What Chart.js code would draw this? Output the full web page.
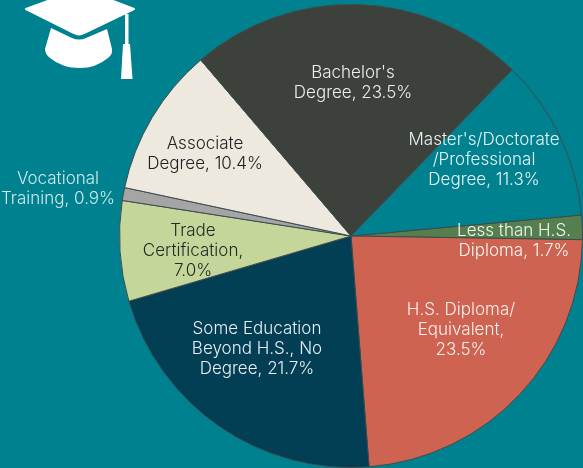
<!DOCTYPE html>
<html>
<head>
<meta charset="utf-8">
<script src="https://cdn.jsdelivr.net/npm/chart.js@4"></script>
<style>
  html, body { margin:0; padding:0; background:#00818f; overflow:hidden; }
  #wrap { position:relative; width:583px; height:468px; }
  #icon { position:absolute; left:0; top:0; }
</style>
</head>
<body>
<div id="wrap">
  <canvas id="chart" width="583" height="468"></canvas>
  <svg id="icon" width="150" height="90" viewBox="0 0 150 90">
    <path fill="#fff" stroke="#fff" stroke-width="2" stroke-linejoin="round" d="M26 9 L72 -8 L90 -8 L134 9 L84 33 Q79 36 74 33 Z"/>
    <path fill="#fff" d="M51 28 L72 38 Q79 41 86 38 L107 29 L112 49 Q113 54 108 58 Q96 68 80 68 Q62 68 50 58 Q45 54 45 49 Z"/>
    <rect fill="#fff" x="125" y="14" width="3.5" height="31"/>
    <path fill="#fff" d="M123 44 L130 44 L132.5 79 L121 79 Z"/>
  </svg>
</div>
<script>
const categories = ['Less than H.S.\nDiploma, ', 'H.S. Diploma/\nEquivalent,\n', 'Some Education\nBeyond H.S., No\nDegree, ',
  'Trade\nCertification,\n', 'Vocational\nTraining, ', 'Associate\nDegree, ', "Bachelor's\nDegree, ",
  "Master's/Doctorate\n/Professional\nDegree, "];
const shares = [1.7, 23.5, 21.7, 7.0, 0.9, 10.4, 23.5, 11.3];
const sliceColors = ['#567f4f', '#ce6351', '#033f54', '#c5d69b', '#a5a5a5', '#ede9df', '#3c413c', '#00818f'];
const textColors = ['#f2f6f2', '#f7efec', '#e6eef2', '#222b22', '#cfe9ec', '#222222', '#eeeeea', '#e6f3f4'];
// centre of each label block, px
const labelCentres = [[514, 241], [461, 330], [257, 349], [193, 251], [58, 189], [205, 154], [353, 83], [484, 160]];

// writes the label text for each slice
const sliceLabels = {
  id: 'sliceLabels',
  afterDatasetsDraw(chart) {
    const ctx = chart.ctx;
    ctx.save();
    ctx.font = '300 17px Inter, Lato, sans-serif';
    ctx.textAlign = 'center';
    ctx.textBaseline = 'middle';
    categories.forEach((c, i) => {
      const lines = (c + shares[i].toFixed(1) + '%').split('\n');
      const [x, y] = labelCentres[i];
      ctx.fillStyle = textColors[i];
      lines.forEach((l, n) => {
        ctx.fillText(l, x, y + (n - (lines.length - 1) / 2) * 20);
      });
    });
    ctx.restore();
  }
};

new Chart(document.getElementById('chart').getContext('2d'), {
  type: 'pie',
  data: {
    labels: categories,
    datasets: [{
      data: shares,
      backgroundColor: sliceColors,
      borderColor: '#3f4a4c',
      borderWidth: 1
    }]
  },
  options: {
    responsive: false,
    animation: false,
    rotation: 84.8,
    layout: { padding: { left: 119, top: 4, right: -1, bottom: 0 } },
    plugins: { legend: { display: false }, tooltip: { enabled: false } }
  },
  plugins: [sliceLabels]
});
</script>
</body>
</html>
